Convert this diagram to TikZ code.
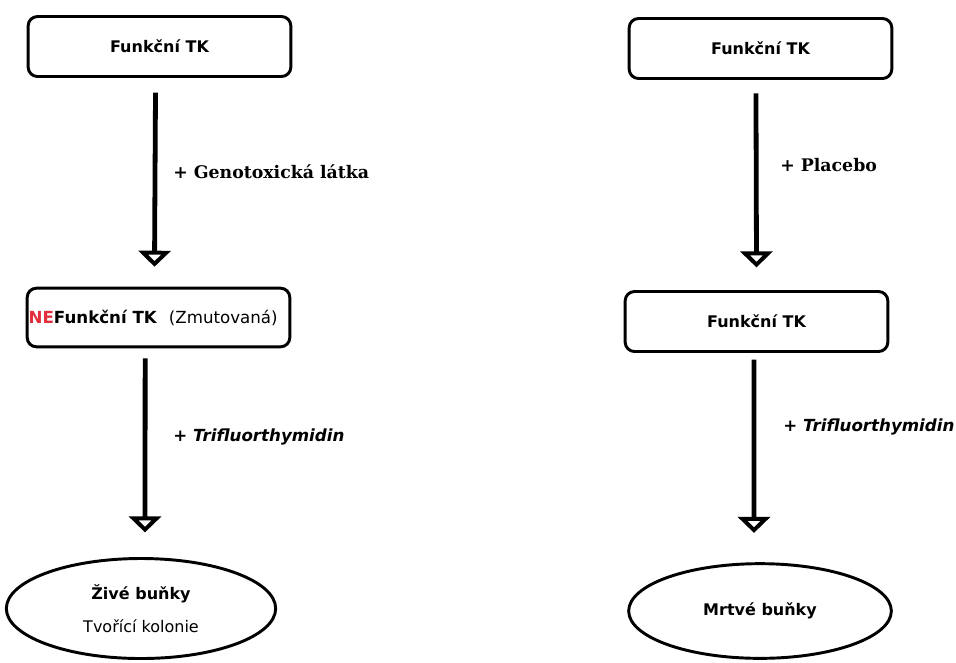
\documentclass[tikz,border=0pt]{standalone}
\usepackage{fontspec}
\setmainfont{DejaVu Sans}
\newfontfamily\labelserif{DejaVu Serif}
\usetikzlibrary{shapes.geometric,arrows.meta}
\definecolor{nered}{RGB}{225,45,60}
\begin{document}
\begin{tikzpicture}[x=0.75pt,y=-0.75pt,
tkbox/.style={draw,line width=2.2pt,rounded corners=7pt,minimum width=197pt,minimum height=45pt,inner sep=0pt,font=\fontsize{12}{14}\selectfont\bfseries},
cellell/.style={draw,ellipse,line width=2.2pt,inner sep=0pt,align=center,font=\fontsize{12}{14}\selectfont},
addarrow/.style={line width=3.6pt,-{Triangle[open,width=24pt,length=12pt,line width=3.4pt]}},
serlabel/.style={anchor=west,inner sep=0pt,font=\labelserif\fontsize{13}{15}\selectfont\bfseries},
itlabel/.style={anchor=west,inner sep=0pt,font=\fontsize{12.5}{15}\selectfont\bfseries\itshape}]
\useasboundingbox (0,0) rectangle (956,662);
\node [tkbox] (tkl) at (159.5,46.5) {Funkční TK};
\node [tkbox,minimum height=44pt] (netk) at (158.5,317.5) {\fontsize{12.5}{14}\selectfont\textcolor{nered}{NE}Funkční TK\hspace{9pt}{\mdseries (Zmutovaná)}\hspace*{8pt}};
\node [cellell,minimum width=202pt,minimum height=75pt] (zive) at (141,608.5) {\bfseries Živé buňky\\[11pt] Tvořící kolonie};
\node [tkbox] (tkr) at (760.5,48.5) {Funkční TK};
\node [tkbox] (tkp) at (756.5,321.5) {Funkční TK};
\node [cellell,minimum width=197pt,minimum height=71pt] (mrtve) at (760,611) {\bfseries Mrtvé buňky};
\draw [addarrow] ([xshift=-3pt,yshift=-11pt]tkl.south) -- ([xshift=-3pt,yshift=15pt]netk.north);
\draw [addarrow] ([xshift=-10pt,yshift=-7.5pt]netk.south) -- ([xshift=3pt,yshift=18.5pt]zive.north);
\draw [addarrow] ([xshift=-3.4pt,yshift=-10pt]tkr.south) -- ([yshift=17pt]tkp.north);
\draw [addarrow] ([xshift=-1.9pt,yshift=-5pt]tkp.south) -- ([xshift=-4.5pt,yshift=22pt]mrtve.north);
\node [serlabel] (genotox) at (173,172) {+ Genotoxická látka};
\node [itlabel] (triflul) at (173,437) {+ Trifluorthymidin};
\node [serlabel] (placebo) at (780,165) {+ Placebo};
\node [itlabel] (triflur) at (783,427) {+ Trifluorthymidin};
\end{tikzpicture}
\end{document}
